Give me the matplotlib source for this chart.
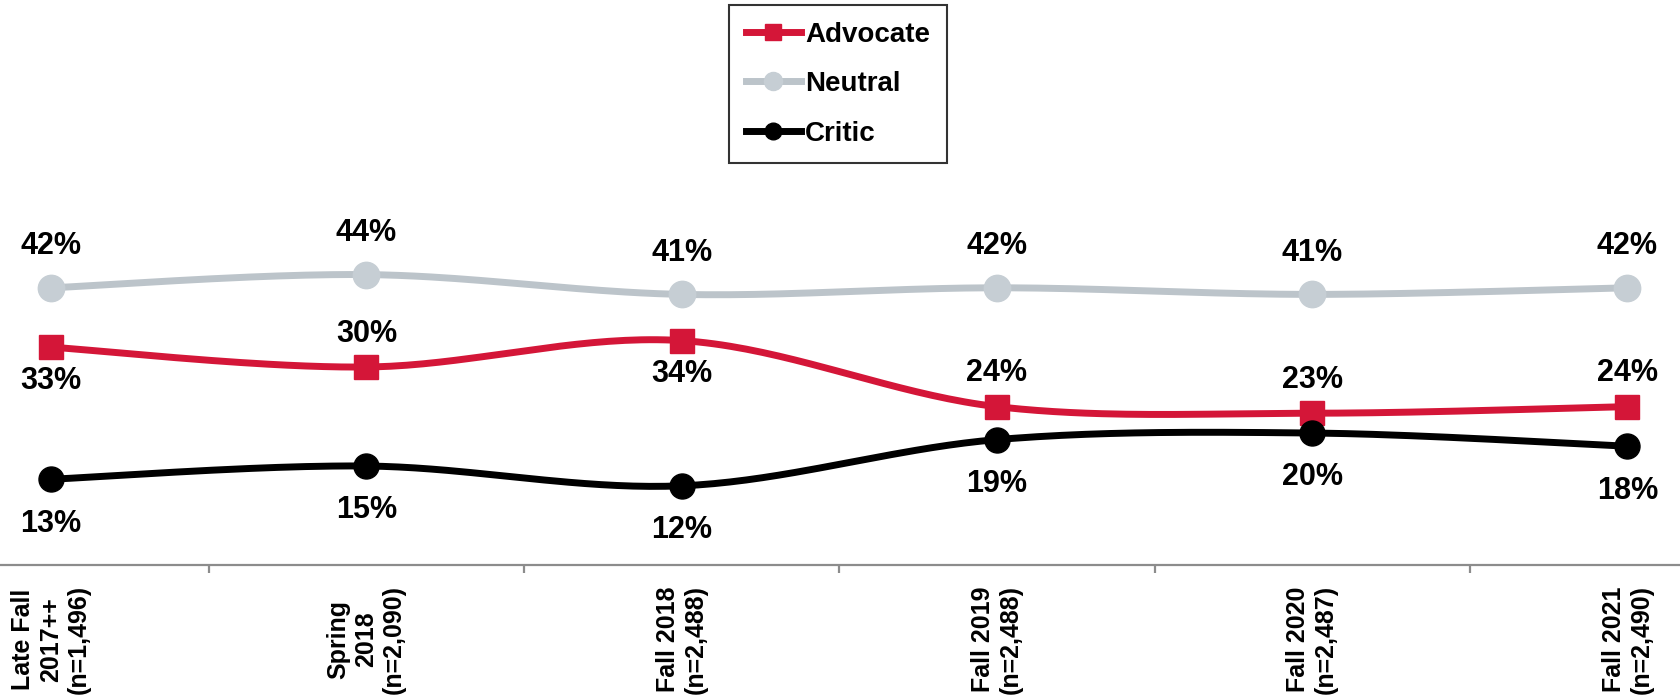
import numpy as np
import matplotlib
matplotlib.use("Agg")
import matplotlib.pyplot as plt
from matplotlib.lines import Line2D

plt.rcParams["font.family"] = ["Liberation Sans", "DejaVu Sans"]
plt.rcParams["font.weight"] = "bold"

categories = [
    "Late Fall\n2017++\n(n=1,496)",
    "Spring\n2018\n(n=2,090)",
    "Fall 2018\n(n=2,488)",
    "Fall 2019\n(n=2,488)",
    "Fall 2020\n(n=2,487)",
    "Fall 2021\n(n=2,490)",
]
advocate = [33, 30, 34, 24, 23, 24]
neutral = [42, 44, 41, 42, 41, 42]
critic = [13, 15, 12, 19, 20, 18]

# label placement for the advocate series: +1 above the point, -1 below
advocate_side = [-1, 1, -1, 1, 1, 1]

RED = "#D41638"
GRAY_LINE = "#BCC4CA"
GRAY = "#C6CED4"
BLACK = "#000000"


def smooth(xs, ys, n=40):
    # bezier through every point with catmull-rom tangents (spreadsheet "smoothed line")
    P = np.column_stack([xs, ys]).astype(float)
    P = np.vstack([P[0], P, P[-1]])
    out = []
    t = np.linspace(0, 1, n)[:, None]
    for i in range(1, len(P) - 2):
        p0, p1, p2, p3 = P[i - 1], P[i], P[i + 1], P[i + 2]
        c1 = p1 + (p2 - p0) / 6.0
        c2 = p2 - (p3 - p1) / 6.0
        seg = ((1 - t) ** 3) * p1 + 3 * ((1 - t) ** 2) * t * c1 + 3 * (1 - t) * t ** 2 * c2 + t ** 3 * p2
        out.append(seg if i == 1 else seg[1:])
    seg = np.vstack(out)
    return seg[:, 0], seg[:, 1]


fig = plt.figure(figsize=(16.81, 6.98), dpi=100)
ax = fig.add_axes([0, 0.1905, 1, 0.8095])

x = np.arange(len(categories))

series = [
    ("Neutral", neutral, GRAY_LINE, GRAY, "o", 19),
    ("Advocate", advocate, RED, RED, "s", 17),
    ("Critic", critic, BLACK, BLACK, "o", 18),
]
for name, vals, lcolor, mcolor, marker, ms in series:
    sx, sy = smooth(x, vals)
    ax.plot(sx, sy, color=lcolor, lw=5, solid_capstyle="round", zorder=2)
    ax.plot(x, vals, ls="none", marker=marker, ms=ms, color=mcolor, zorder=3)

lab_kw = dict(textcoords="offset points", ha="center", va="center",
              fontsize=22, fontweight="bold", color="black")
for xi, v in zip(x, neutral):
    ax.annotate(f"{v}%", (xi, v), xytext=(0, 30), **lab_kw)
for xi, v, s in zip(x, advocate, advocate_side):
    ax.annotate(f"{v}%", (xi, v), xytext=(0, 24 * s), **lab_kw)
for xi, v in zip(x, critic):
    ax.annotate(f"{v}%", (xi, v), xytext=(0, -32), **lab_kw)

ax.set_xlim(-0.162, 5.17)
ax.set_ylim(0, 85.6)

for side in ["top", "right", "left"]:
    ax.spines[side].set_visible(False)
ax.spines["bottom"].set_color("#8C8C8C")
ax.spines["bottom"].set_linewidth(1.6)
ax.set_yticks([])

# tick marks sit between categories, labels under each category
ax.set_xticks(x[:-1] + 0.5)
ax.set_xticklabels([])
ax.tick_params(axis="x", length=6, width=1.6, color="#8C8C8C", direction="out")
for xi, lab in zip(x, categories):
    ax.text(xi, -3.0, lab, rotation=90, ha="center", va="top", multialignment="center",
            fontsize=18, fontweight="bold", linespacing=1.2, clip_on=False)

handles = [
    Line2D([], [], color=RED, lw=5, marker="s", ms=12),
    Line2D([], [], color=GRAY_LINE, lw=5, marker="o", mfc=GRAY, mec=GRAY, ms=13),
    Line2D([], [], color=BLACK, lw=5, marker="o", ms=12),
]
leg = fig.legend(handles, ["Advocate", "Neutral", "Critic"], loc="upper center",
                 bbox_to_anchor=(0.4985, 0.993), frameon=True, fancybox=False,
                 edgecolor="black", fontsize=20, handlelength=2.0, handletextpad=0.15,
                 labelspacing=0.85, borderpad=0.6, borderaxespad=0)
leg.get_frame().set_linewidth(1.5)
for t in leg.get_texts():
    t.set_fontweight("bold")

fig.savefig("out.png", dpi=100)
